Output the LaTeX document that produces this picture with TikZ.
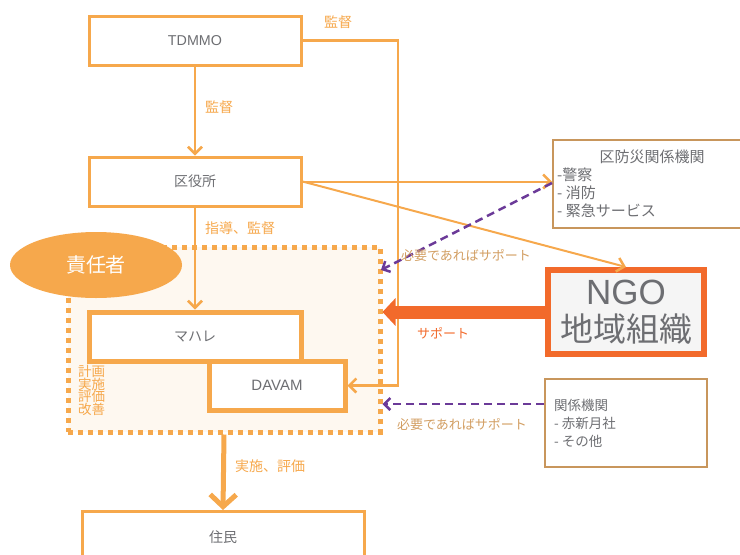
\documentclass[tikz,border=0pt]{standalone}
\usepackage{fontspec}
\setmainfont{Liberation Sans}
\newfontfamily\jp{Noto Sans CJK JP}
\usetikzlibrary{arrows.meta,calc,shapes.geometric}
\definecolor{org}{HTML}{F6A84C}
\definecolor{txtgray}{HTML}{6D6E72}
\definecolor{brn}{HTML}{C8965C}
\definecolor{lbrn}{HTML}{D29E62}
\definecolor{purp}{HTML}{6B3A98}
\definecolor{redo}{HTML}{F26A2B}
\definecolor{regfill}{HTML}{FEF8F0}
\definecolor{ngofill}{HTML}{F5F5F5}
\tikzset{
  obox/.style={draw=org,line width=3pt,fill=white,text=txtgray,font=\jp\fontsize{14}{16}\selectfont,inner sep=0pt},
  tbox/.style={draw=org,line width=5pt,fill=white,text=txtgray,font=\jp\fontsize{14}{16}\selectfont,inner sep=0pt},
  bbox/.style={draw=brn,line width=2pt,fill=white,inner sep=0pt},
  arr/.style={draw=org,line width=2.5pt,-{Straight Barb[length=7pt,width=14pt,line width=2.5pt]}},
  olab/.style={text=org,font=\jp\fontsize{14}{16}\selectfont,inner sep=0pt},
  blab/.style={text=lbrn,font=\jp\fontsize{13}{15}\selectfont,inner sep=0pt},
  ltxt/.style={text=txtgray,font=\jp\fontsize{15}{17}\selectfont,inner sep=0pt,anchor=west},
  ktxt/.style={text=txtgray,font=\jp\fontsize{13.5}{16}\selectfont,inner sep=0pt,anchor=west},
  parr/.style={draw=purp,line width=2.5pt,dash pattern=on 8pt off 5pt,-{Straight Barb[length=6pt,width=12pt,line width=2.5pt]}}
}
\begin{document}
\begin{tikzpicture}[x=1pt,y=-1pt]
\useasboundingbox (0,0) rectangle (740,555);
\clip (0,0) rectangle (740,555);
% boxes
\node[obox,minimum width=212pt,minimum height=49pt] (tdmmo) at (195,40.5) {\rmfamily\fontsize{14.3}{16}\selectfont TDMMO};
\node[obox,minimum width=212pt,minimum height=49pt] (kuyaku) at (195,181.5) {区役所};
\node[draw=org,line width=5pt,dash pattern=on 5pt off 5pt,fill=regfill,minimum width=312pt,minimum height=185pt,inner sep=0pt] (region) at (224,339.5) {};
\node[fill=org,ellipse,minimum width=172pt,minimum height=66pt,inner sep=0pt,text=white,font=\jp\fontsize{20}{22}\selectfont] (sekinin) at (96,265) {責任者};
\node[tbox,minimum width=212pt,minimum height=49pt] (mahare) at (195,336.5) {マハレ};
\node[tbox,minimum width=136pt,minimum height=49pt] (davam) at (277,385.5) {\rmfamily\fontsize{15}{16}\selectfont DAVAM};
\node[text=org,font=\jp\fontsize{13.5}{12.5}\selectfont,align=left,inner sep=0pt,anchor=north west] (keikaku) at (78,365) {計画\\実施\\評価\\改善};
\node[obox,minimum width=282pt,minimum height=90pt,anchor=north] (jumin) at (223,510) {};
\node[text=txtgray,font=\jp\fontsize{14}{16}\selectfont] (juminlab) at (223,537) {住民};
% bousai box
\node[bbox,minimum width=200pt,minimum height=88pt,anchor=north west] (bousai) at (552,139) {};
\node[text=txtgray,font=\jp\fontsize{15}{17}\selectfont,inner sep=0pt] (bt) at (652,157) {区防災関係機関};
\node[ltxt] (b1) at (557,175) {-警察};
\node[ltxt] (b2) at (557,193) {- 消防};
\node[ltxt] (b3) at (557,211) {- 緊急サービス};
% NGO
\node[draw=redo,line width=6pt,fill=ngofill,minimum width=156pt,minimum height=84pt,inner sep=0pt,text=txtgray,align=center,font=\jp\fontsize{33}{37}\selectfont] (ngo) at (626,312) {{\rmfamily\fontsize{35}{37}\selectfont NGO}\\地域組織};
% kankei
\node[bbox,minimum width=162pt,minimum height=88pt] (kankei) at (626,423) {};
\node[ktxt] (k1) at (554,405) {関係機関};
\node[ktxt] (k2) at (554,423) {- 赤新月社};
\node[ktxt] (k3) at (554,441) {- その他};
% connectors
\coordinate (tc) at (398,40.5);
\draw[arr] (tdmmo.east) -- (tc) |- (davam.east);
\draw[arr] (tdmmo.south) -- (kuyaku.north);
\draw[arr] (kuyaku.south) -- (mahare.north);
\draw[arr,line width=2pt] (kuyaku.east) -- (kuyaku.east -| bousai.west);
\draw[arr,line width=2pt] (kuyaku.east) -- (ngo.north);
\coordinate (p1) at (381,270);
\coordinate (p0) at ($(bousai.west)+(0,-1)$);
\draw[parr] (p0) -- (p1);
\draw[draw=redo,line width=13pt,-{Triangle[length=13pt,width=27pt]}] (ngo.west) -- (ngo.west -| region.east);
\coordinate (k0) at ($(kankei.west)+(0,-19)$);
\draw[parr] (k0) -- (k0 -| region.east);
\draw[draw=org,line width=5pt,-{Straight Barb[length=12pt,width=26pt,line width=5pt]}] (region.south) -- (jumin.north);
% labels
\node[olab] (l1) at (219,107) {監督};
\node[olab] (l2) at (338,22) {監督};
\node[olab] (l3) at (240,228) {指導、監督};
\node[olab] (l4) at (270,466) {実施、評価};
\node[blab] (l5) at (466,256) {必要であればサポート};
\node[blab] (l6) at (462,425) {必要であればサポート};
\node[text=redo,font=\jp\fontsize{13}{15}\selectfont,inner sep=0pt] (l7) at (443,333) {サポート};
\end{tikzpicture}
\end{document}
